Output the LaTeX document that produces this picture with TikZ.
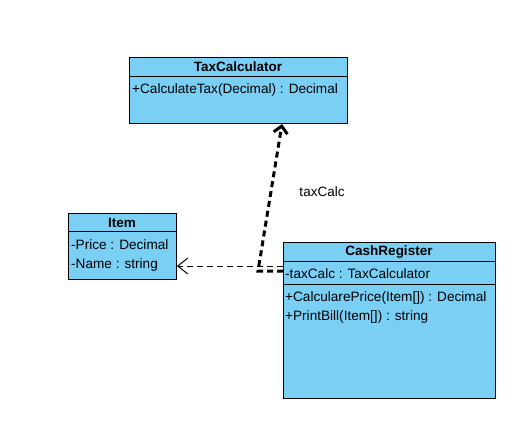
\documentclass[tikz,border=0pt]{standalone}
\usepackage{fontspec}
\setmainfont{Liberation Sans}
\usetikzlibrary{arrows.meta}
\definecolor{classfill}{RGB}{122,207,245}
\begin{document}
\begin{tikzpicture}[x=1pt,y=-1pt,
  classbox/.style={draw=black, fill=classfill, line width=1pt, anchor=north west, inner sep=0pt},
  classtitle/.style={font=\fontsize{13.5}{15}\selectfont\bfseries, anchor=center, inner sep=0pt},
  member/.style={font=\fontsize{13.6}{15}\selectfont, anchor=west, inner sep=0pt},
  sep/.style={line width=0.9pt},
  dep/.style={dashed, dash pattern=on 6pt off 4pt, line width=1pt,
    -{Straight Barb[length=10pt, width=16pt, line width=1pt]}},
  usage/.style={dash pattern=on 6pt off 4pt, line width=3pt,
    -{Straight Barb[length=7pt, width=14pt, line width=3pt]}},
  lbl/.style={font=\fontsize{13.5}{15}\selectfont, inner sep=0pt}]
\useasboundingbox (0,0) rectangle (516,431);
\fill[white] (0,0) rectangle (516,431);

% TaxCalculator
\node[classbox, minimum width=218pt, minimum height=66pt] (tax) at (129,57) {};
\node[classtitle] (taxname) at (238,67) {TaxCalculator};
\draw[sep] (129,76) -- (347,76);
\node[member] (taxop) at (132,89.5) {+CalculateTax(Decimal) : Decimal};

% Item
\node[classbox, minimum width=108pt, minimum height=66pt] (item) at (68,213) {};
\node[classtitle] (itemname) at (122,223) {Item};
\draw[sep] (68,231) -- (176,231);
\node[member] (itemprice) at (71,244.5) {-Price : Decimal};
\node[member] (itemname2) at (71,265) {-Name : string};

% CashRegister
\node[classbox, minimum width=212pt, minimum height=156pt] (cash) at (283,242) {};
\node[classtitle] (cashname) at (389,252) {CashRegister};
\draw[sep] (283,261) -- (495,261);
\draw[sep] (283,284) -- (495,284);
\node[member] (cashattr) at (285,273.5) {-taxCalc : TaxCalculator};
\node[member] (cashop1) at (285,297.5) {+CalcularePrice(Item[]) : Decimal};
\node[member] (cashop2) at (285,316.5) {+PrintBill(Item[]) : string};

% dependency on Item
\draw[dep] (cash.north west |- 0,266) -- (item.east |- 0,266);

% association to TaxCalculator
\coordinate (bend) at (258,271);
\draw[usage] (cash.north west |- 0,271) -- (bend) -- (tax.south -| 282,0);
\node[lbl] (assoclabel) at (322,192) {taxCalc};
\end{tikzpicture}
\end{document}
